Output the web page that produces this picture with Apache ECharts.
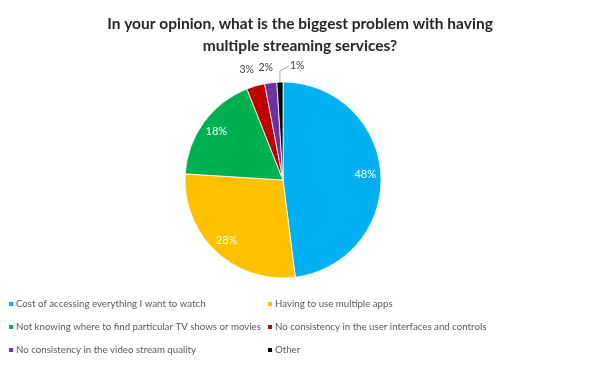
<!DOCTYPE html>
<html><head><meta charset="utf-8">
<script src="https://cdn.jsdelivr.net/npm/echarts@6/dist/echarts.min.js"></script>
<style>html,body{margin:0;padding:0;background:#fff}#c{width:600px;height:368px}</style>
</head><body><div id="c"></div>
<script>
var categories = [
  "Cost of accessing everything I want to watch",
  "Having to use multiple apps",
  "Not knowing where to find particular TV shows or movies",
  "No consistency in the user interfaces and controls",
  "No consistency in the video stream quality",
  "Other"
];
var values = [48, 28, 18, 3, 2, 1];
var colors = ["#00B0F0", "#FFC000", "#00B050", "#C00000", "#7030A0", "#000000"];

var chart = echarts.init(document.getElementById('c'));
var center = [283, 180];
var R = 98;

var baseData = categories.map(function(n, i){
  var small = values[i] < 5;
  return {
    name: n, value: values[i],
    itemStyle: {color: colors[i]},
    label: {show: small},
    labelLine: {show: i === 5}
  };
});
var overlayData = categories.map(function(n, i){
  return {
    name: n, value: values[i],
    itemStyle: {color: 'transparent', borderWidth: 0},
    label: {show: values[i] >= 5}
  };
});

chart.setOption({
  animation: false,
  title: {
    text: "In your opinion, what is the biggest problem with having\nmultiple streaming services?",
    left: 'center', top: 8,
    textStyle: {fontFamily: 'Lato', fontWeight: 'bold', fontSize: 15.5, color: '#262626', lineHeight: 22}
  },
  legend: [
    {
      data: [categories[0], categories[2], categories[4]],
      orient: 'vertical', left: 2, top: 294, itemGap: 13,
      itemWidth: 6, itemHeight: 6, icon: 'rect',
      textStyle: {fontFamily: 'Lato', fontSize: 9.7, color: '#595959', padding: [0,0,0,-3]}
    },
    {
      data: [categories[1], categories[3], categories[5]],
      orient: 'vertical', left: 261, top: 294, itemGap: 13,
      itemWidth: 6, itemHeight: 6, icon: 'rect',
      textStyle: {fontFamily: 'Lato', fontSize: 9.7, color: '#595959', padding: [0,0,0,-3]}
    }
  ],
  series: [
    {
      type: 'pie', center: center, radius: [0, R], startAngle: 90, clockwise: true,
      avoidLabelOverlap: false,
      data: baseData,
      itemStyle: {borderColor: '#fff', borderWidth: 0.8},
      label: {position: 'outside', formatter: '{d}%', fontFamily: 'Lato', fontSize: 10.5, color: '#404040'},
      labelLine: {length: 0, length2: 0, lineStyle: {color: '#a6a6a6', width: 1}},
      labelLayout: function(p){
        var pts = p.labelLinePoints;
        var e = pts ? pts[0] : null;
        if (!e) return {};
        if (p.dataIndex === 3) {
          return {x: e[0] - 9, y: e[1] - 16, align: 'center', verticalAlign: 'middle'};
        }
        if (p.dataIndex === 4) {
          return {x: e[0] - 5, y: e[1] - 15, align: 'center', verticalAlign: 'middle'};
        }
        if (p.dataIndex === 5) {
          return {x: e[0] + 10, y: e[1] - 16, align: 'left', verticalAlign: 'middle',
            labelLinePoints: [[e[0], e[1]], [e[0], e[1] - 11], [e[0] + 9, e[1] - 16]]};
        }
        return {};
      },
      emphasis: {disabled: true}
    },
    {
      type: 'pie', center: center, radius: [R*0.62, R], startAngle: 90, clockwise: true,
      data: overlayData, silent: true,
      label: {position: 'inside', formatter: '{d}%', fontFamily: 'Lato', fontSize: 11, color: '#fff'},
      labelLine: {show: false},
      emphasis: {disabled: true}
    }
  ]
});
</script></body></html>
